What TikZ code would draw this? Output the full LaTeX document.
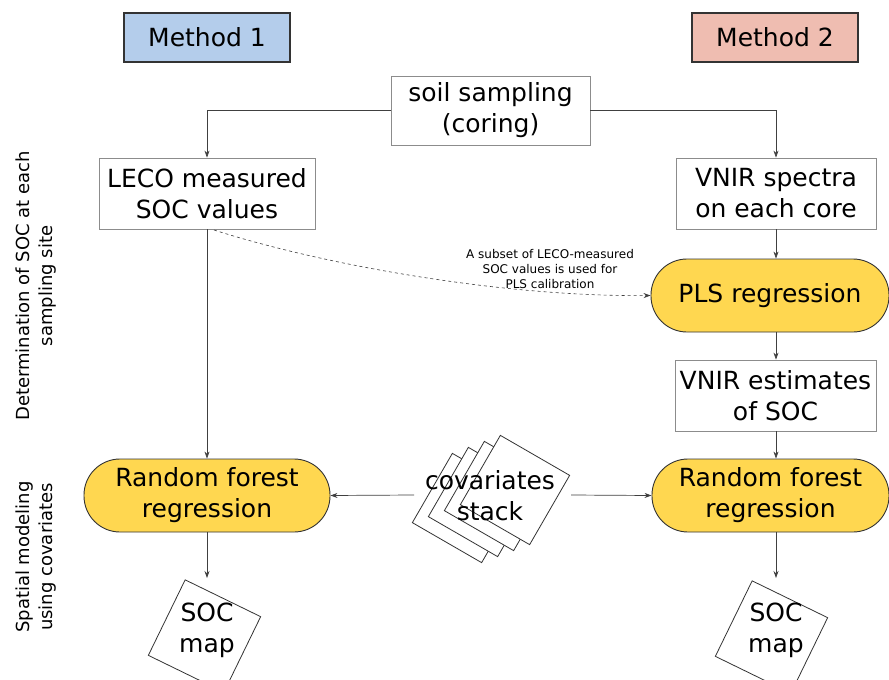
\documentclass[tikz,border=0pt]{standalone}
\usepackage{fontspec}
\setmainfont{DejaVu Sans}
\usetikzlibrary{arrows.meta}
\definecolor{mblue}{HTML}{B4CDEB}
\definecolor{mpink}{HTML}{EFBDB1}
\definecolor{myel}{HTML}{FFD750}
\begin{document}
\begin{tikzpicture}[x=1pt,y=-1pt,
  every node/.style={inner sep=0pt, align=center},
  bigtxt/.style={font=\fontsize{25}{31}\selectfont},
  methbox/.style={draw=black!80, line width=1.1pt, bigtxt},
  wbox/.style={draw=black!45, line width=0.8pt, fill=white, bigtxt},
  pill/.style={draw=black!80, line width=0.9pt, fill=myel, rounded corners=36pt, bigtxt},
  sq/.style={draw=black!80, line width=0.8pt, fill=white, minimum width=80pt, minimum height=80pt},
  arr/.style={draw=black!75, line width=0.7pt, -{Stealth[length=7pt,width=5pt]}},
  sidetxt/.style={font=\fontsize{18}{23}\selectfont, rotate=90}]
\clip (0,0) rectangle (889,680);
\fill[white] (0,0) rectangle (889,680);

\node[methbox, fill=mblue, minimum width=166pt, minimum height=49pt] (m1) at (207,37.5) {Method 1};
\node[methbox, fill=mpink, minimum width=166pt, minimum height=49pt] (m2) at (775,37.5) {Method 2};

\node[wbox, minimum width=199pt, minimum height=69pt] (soil) at (490.5,110.5) {soil sampling\\(coring)};
\node[wbox, minimum width=216pt, minimum height=71pt] (leco) at (207,193.5) {LECO measured\\SOC values};
\node[wbox, minimum width=200pt, minimum height=71pt] (vnir) at (776,193.5) {VNIR spectra\\on each core};
\node[pill, minimum width=238pt, minimum height=73pt] (pls) at (770,295.5) {PLS regression};
\node[wbox, minimum width=201pt, minimum height=71pt] (vest) at (775.5,395.5) {VNIR estimates\\of SOC};
\node[pill, minimum width=246pt, minimum height=73pt] (rfl) at (207,495.5) {Random forest\\regression};
\node[pill, minimum width=237pt, minimum height=73pt] (rfr) at (770.5,495.5) {Random forest\\regression};

% covariates stack
\node[sq, rotate=-30] (s4) at (467,508) {};
\node[sq, rotate=-30] (s3) at (483,502) {};
\node[sq, rotate=-30] (s2) at (499,496) {};
\node[sq, rotate=-30] (s1) at (515,490) {};
\node[bigtxt] (cov) at (490,496) {covariates\\stack};
\coordinate (covL) at (414,495);
\coordinate (covR) at (571,495);

% SOC maps
\node[sq, minimum width=84pt, minimum height=84pt, rotate=-26] (mapl) at (204.5,636) {};
\node[bigtxt] (mapltxt) at (207,630) {SOC\\map};
\node[sq, minimum width=84pt, minimum height=84pt, rotate=-26] (mapr) at (771.5,637) {};
\node[bigtxt] (maprtxt) at (776,630) {SOC\\map};
\coordinate (mapltop) at (207,578);
\coordinate (maprtop) at (776,578);

% side labels
\node[sidetxt] (side1) at (36,286) {Determination of SOC at each\\sampling site};
\node[sidetxt] (side2) at (36,557) {Spatial modeling\\using covariates};

% connectors
\draw[arr] (soil.west) -| (leco.north);
\draw[arr] (soil.east) -| (vnir.north);
\draw[arr] (vnir.south) -- (vnir.south |- pls.north);
\draw[arr] (vnir.south |- pls.south) -- (vnir.south |- vest.north);
\draw[arr] (vnir.south |- vest.south) -- (vnir.south |- rfr.north);
\draw[arr] (leco.south) -- (rfl.north);
\draw[arr] (covL) -- (rfl.east);
\draw[arr] (covR) -- (rfr.west);
\draw[arr] (rfl.south) -- (mapltop);
\draw[arr] (vnir.south |- rfr.south) -- (maprtop);

\coordinate (dstart) at (214,230);
\draw[arr, dash pattern=on 3pt off 3pt, line width=0.6pt] (dstart) .. controls (320,264) and (500,297) .. (pls.west);
\node[font=\fontsize{12}{15}\selectfont] (lab) at (550,269) {A subset of LECO-measured\\SOC values is used for\\PLS calibration};
\end{tikzpicture}
\end{document}
